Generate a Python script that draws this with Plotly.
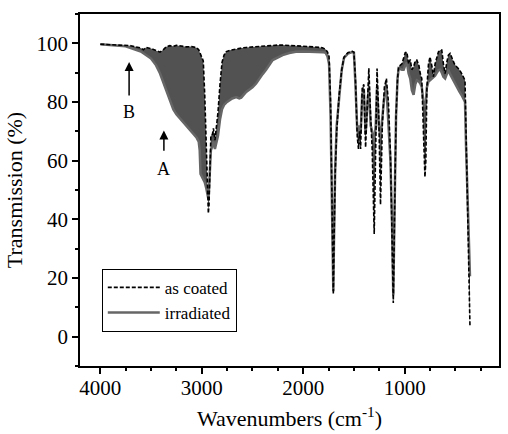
import plotly.graph_objects as go

wavenumber = [4000, 3950, 3900, 3850, 3800, 3750, 3700, 3650, 3600, 3575, 3550, 3500, 3450, 3412,
              3380, 3350, 3314, 3280, 3250, 3200, 3150, 3100, 3050, 3030, 3020, 3012, 3000, 2985,
              2970, 2955, 2945, 2935, 2928, 2920, 2910, 2895, 2885, 2870, 2855, 2840, 2820, 2800,
              2780, 2758, 2725, 2700, 2660, 2630, 2611, 2590, 2562, 2500, 2464, 2400, 2366, 2301,
              2250, 2203, 2137, 2072, 2000, 1900, 1811, 1780, 1760, 1745, 1730, 1718, 1708, 1703,
              1697, 1685, 1670, 1647, 1620, 1598, 1560, 1516, 1500, 1485, 1467, 1455, 1445, 1434,
              1418, 1402, 1385, 1370, 1353, 1335, 1320, 1300, 1285, 1272, 1255, 1238, 1220, 1200,
              1180, 1160, 1140, 1125, 1112, 1100, 1085, 1070, 1059, 1027, 1010, 994, 978, 961,
              945, 929, 912, 895, 880, 860, 846, 831, 815, 800, 791, 781, 765, 750, 730, 716,
              700, 667, 650, 634, 618, 601, 585, 569, 552, 530, 510, 487, 460, 438, 420, 405,
              395, 380, 365, 356]

as_coated = [99.7, 99.6, 99.6, 99.5, 99.4, 99.4, 99.2, 98.8, 98.4, 97.8, 98.6, 98.2, 97.6, 97.0,
             97.8, 98.8, 99.2, 99.0, 99.3, 99.0, 98.8, 98.9, 98.5, 97.8, 97.0, 96.0, 95.2, 94.0,
             82.0, 65.0, 50.0, 42.0, 45.0, 60.0, 68.5, 69.0, 71.0, 67.0, 72.0, 76.5, 86.0, 93.5,
             96.0, 97.2, 97.6, 97.8, 98.0, 98.2, 98.4, 98.5, 98.6, 98.8, 98.9, 99.0, 99.1, 99.3,
             99.4, 99.4, 99.3, 99.1, 99.0, 98.8, 98.5, 98.0, 97.0, 95.5, 80.0, 50.0, 25.0, 14.5,
             30.0, 55.0, 70.0, 82.0, 91.0, 95.3, 96.8, 97.3, 97.0, 88.0, 68.0, 64.0, 70.0, 64.0,
             85.0, 86.0, 64.5, 80.0, 91.5, 75.0, 64.0, 35.0, 70.0, 91.4, 75.0, 45.0, 72.0, 85.0,
             88.0, 80.0, 62.5, 40.0, 11.5, 40.0, 75.0, 88.0, 92.0, 93.0, 95.0, 96.8, 97.0, 93.0,
             94.5, 91.0, 92.0, 94.0, 94.3, 92.5, 89.7, 88.0, 70.0, 54.4, 60.0, 85.0, 93.0, 95.4, 92.0, 88.6,
             93.0, 97.1, 97.7, 97.7, 93.0, 89.7, 93.5, 96.0, 96.6, 95.0, 93.0, 92.0, 91.0, 89.7, 88.5, 87.4,
             70.0, 40.0, 15.0, 3.2]

irradiated = [99.7, 99.6, 99.5, 99.4, 99.2, 99.0, 98.4, 97.8, 97.2, 96.6, 96.0, 94.8, 92.5, 89.8,
              86.8, 84.0, 80.8, 77.5, 75.8, 73.8, 71.8, 69.8, 67.8, 66.5, 63.5, 55.5, 54.6, 53.6,
              52.6, 50.5, 48.6, 47.0, 50.5, 58.0, 63.5, 65.0, 66.5, 64.0, 66.5, 68.5, 74.0, 77.5,
              79.0, 79.8, 80.6, 81.2, 81.7, 81.2, 81.5, 82.5, 83.4, 85.0, 86.3, 89.5, 91.0, 94.3,
              95.3, 96.0, 96.7, 97.1, 97.2, 97.2, 97.0, 96.8, 95.5, 93.0, 75.0, 48.0, 25.0, 15.5,
              32.0, 57.0, 72.0, 82.0, 91.0, 95.0, 96.5, 97.0, 96.8, 86.0, 70.3, 69.0, 72.0, 69.0,
              82.8, 84.0, 69.0, 78.0, 85.0, 72.0, 70.0, 66.0, 72.0, 85.0, 72.0, 68.0, 75.0, 82.0,
              85.0, 74.0, 60.0, 40.0, 14.0, 42.0, 75.0, 88.0, 91.5, 91.0, 91.0, 92.5, 93.5, 89.7,
              88.0, 84.0, 82.5, 86.0, 87.4, 87.0, 86.3, 85.1, 80.0, 78.3, 80.0, 85.0, 87.0, 87.4, 88.0, 88.6,
              89.0, 90.9, 91.0, 90.0, 88.6, 88.0, 89.5, 90.9, 89.5, 88.0, 86.5, 85.1, 83.5, 82.3, 81.0, 80.0,
              65.0, 45.0, 28.0, 20.6]

series_names = ["as coated", "irradiated"]
arrow_labels = ["A", "B"]
arrow_x = [3373, 3716]
arrow_tail = [62.9, 81.7]
arrow_head = [70.3, 93.6]
label_y = [57.3, 76.5]

FONT = "Liberation Serif"

fig = go.Figure()
# shaded region between the two spectra
fig.add_trace(go.Scatter(x=wavenumber, y=as_coated, mode="lines", line=dict(width=0),
                         showlegend=False, hoverinfo="skip"))
fig.add_trace(go.Scatter(x=wavenumber, y=irradiated, mode="lines", line=dict(width=0),
                         fill="tonexty", fillcolor="#525252", showlegend=False, hoverinfo="skip"))
fig.add_trace(go.Scatter(x=wavenumber, y=irradiated, mode="lines", name=series_names[1],
                         line=dict(color="#666666", width=2.5)))
fig.add_trace(go.Scatter(x=wavenumber, y=as_coated, mode="lines", name=series_names[0],
                         line=dict(color="black", width=1.6, dash="4px,2px")))

for lab, xx, yt, yh, ly in zip(arrow_labels, arrow_x, arrow_tail, arrow_head, label_y):
    fig.add_annotation(x=xx, y=yh, ax=xx, ay=yt, axref="x", ayref="y", xref="x", yref="y",
                       text="", showarrow=True, arrowhead=2, arrowsize=1.2, arrowwidth=1.5,
                       arrowcolor="black")
    fig.add_annotation(x=xx, y=ly, xref="x", yref="y", text=lab, showarrow=False,
                       font=dict(family=FONT, size=18, color="black"))

fig.update_layout(
    width=508, height=434,
    margin=dict(l=80, r=7, t=14, b=68),
    paper_bgcolor="white", plot_bgcolor="white",
    font=dict(family=FONT, color="black"),
    showlegend=True,
    legend=dict(x=0.052, y=0.276, xanchor="left", yanchor="top",
                bordercolor="black", borderwidth=1, bgcolor="white",
                font=dict(family=FONT, size=17, color="black"),
                traceorder="reversed", itemwidth=52, tracegroupgap=0),
)
fig.update_xaxes(
    range=[4200, 70], showgrid=False, zeroline=False,
    showline=True, linecolor="black", linewidth=1.5, mirror=True,
    ticks="outside", ticklen=6, tickwidth=1.5, tickcolor="black",
    tick0=0, dtick=1000, ticklabelstandoff=-4,
    minor=dict(ticks="outside", ticklen=3, tickwidth=1.5, tickcolor="black", dtick=250, tick0=0),
    tickfont=dict(family=FONT, size=21, color="black"),
    title=dict(text="Wavenumbers (cm<sup>-1</sup>)", font=dict(family=FONT, size=22, color="black"),
               standoff=12),
)
fig.update_yaxes(
    range=[-10, 110], showgrid=False, zeroline=False,
    showline=True, linecolor="black", linewidth=1.5, mirror=True,
    ticks="outside", ticklen=6, tickwidth=1.5, tickcolor="black",
    tick0=0, dtick=20,
    minor=dict(ticks="outside", ticklen=3, tickwidth=1.5, tickcolor="black", dtick=10, tick0=0),
    tickfont=dict(family=FONT, size=21, color="black"),
    title=dict(text="Transmission (%)", font=dict(family=FONT, size=22, color="black"),
               standoff=8),
)

fig.write_html("out.html", config={"displayModeBar": False},
               post_script="document.body.style.margin='0';document.body.style.overflow='hidden';")
